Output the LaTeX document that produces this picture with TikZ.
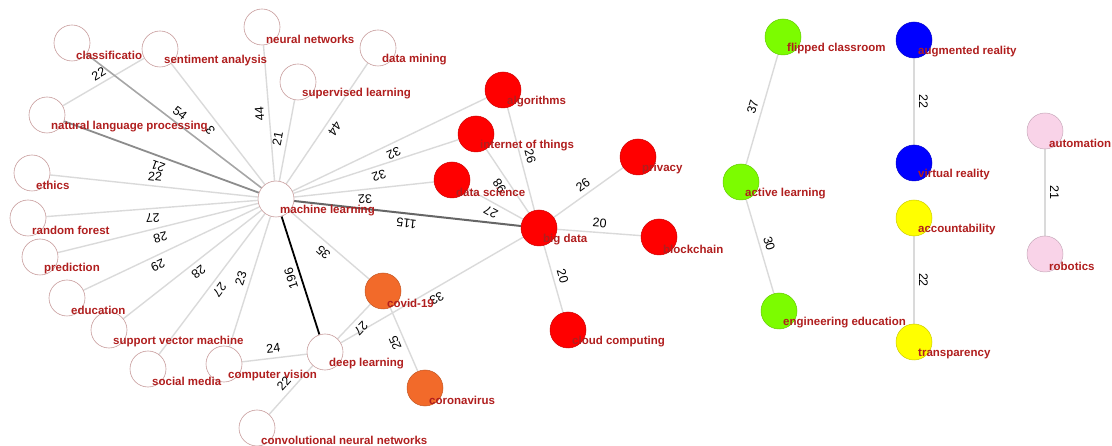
\documentclass[tikz,border=0pt]{standalone}
\usepackage{fontspec}
\setmainfont{Liberation Sans}
\usepackage{xcolor}
\usetikzlibrary{backgrounds}
\definecolor{kwred}{HTML}{B01E1E}
\definecolor{rosy}{HTML}{C89C9C}
\definecolor{linkgray}{HTML}{DADADA}
\definecolor{clusterred}{HTML}{FF0000}
\definecolor{clusterorange}{HTML}{F26A2A}
\definecolor{clustergreen}{HTML}{7CFC00}
\definecolor{clusterblue}{HTML}{0000FF}
\definecolor{clusteryellow}{HTML}{FFFF00}
\definecolor{clusterpink}{HTML}{F9D3E8}

\tikzset{
  wnode/.style={circle, minimum size=36pt, inner sep=0pt, draw=rosy, fill=white, line width=0.6pt},
  cnode/.style={circle, minimum size=36pt, inner sep=0pt, fill=#1, draw=#1!80!black, line width=0.5pt},
  kwlab/.style={anchor=west, inner sep=0pt, text=kwred, font=\bfseries\fontsize{11.5}{12}\selectfont},
  link/.style={draw=linkgray, line width=1.4pt},
  wt/.style={sloped, allow upside down, above=4.5pt, inner sep=0pt, font=\fontsize{12.5}{13}\selectfont}
}

\begin{document}
\begin{tikzpicture}[x=1pt, y=-1pt]
\useasboundingbox (0,0) rectangle (1112,446);

% machine learning cluster
\node[wnode] (ml) at (276,199) {};
\node[wnode] (cls) at (72,43) {};
\node[wnode] (sa) at (160,49) {};
\node[wnode] (nn) at (262,27) {};
\node[wnode] (dm) at (378,48) {};
\node[wnode] (sl) at (298,82) {};
\node[wnode] (nlp) at (47,115) {};
\node[wnode] (eth) at (32,173) {};
\node[wnode] (rf) at (28,218) {};
\node[wnode] (pred) at (40,257) {};
\node[wnode] (edu) at (67,298) {};
\node[wnode] (svm) at (109,330) {};
\node[wnode] (sm) at (148,369) {};
\node[wnode] (cv) at (224,364) {};
\node[wnode] (dl) at (325,352) {};
\node[wnode] (cnn) at (257,428) {};

% covid
\node[cnode=clusterorange] (cov) at (383,291) {};
\node[cnode=clusterorange] (cor) at (425,388) {};

% big data
\node[cnode=clusterred] (bd) at (539,228) {};
\node[cnode=clusterred] (alg) at (503,90) {};
\node[cnode=clusterred] (iot) at (476,134) {};
\node[cnode=clusterred] (ds) at (452,180) {};
\node[cnode=clusterred] (prv) at (638,157) {};
\node[cnode=clusterred] (bc) at (659,237) {};
\node[cnode=clusterred] (cc) at (568,330) {};

% small clusters
\node[cnode=clustergreen] (fc) at (783,37) {};
\node[cnode=clustergreen] (al) at (741,182) {};
\node[cnode=clustergreen] (ee) at (779,311) {};
\node[cnode=clusterblue] (ar) at (914,40) {};
\node[cnode=clusterblue] (vr) at (914,163) {};
\node[cnode=clusteryellow] (acc) at (914,218) {};
\node[cnode=clusteryellow] (tr) at (914,342) {};
\node[cnode=clusterpink] (aut) at (1045,131) {};
\node[cnode=clusterpink] (rob) at (1045,254) {};

\begin{pgfonlayer}{background}
\draw[link] (nlp) -- node[wt]{22} (sa);
\draw[link, draw=black!35, line width=1.6pt] (cls) -- node[wt]{54} (ml);
\draw[link] (ml) -- node[wt]{3} (sa);
\draw[link] (ml) -- node[wt]{44} (nn);
\draw[link] (ml) -- node[wt]{21} (sl);
\draw[link] (dm) -- node[wt]{44} (ml);
\draw[link, draw=black!45, line width=1.8pt] (ml) -- node[wt]{21} (nlp);
\draw[link] (eth) -- node[wt]{22} (ml);
\draw[link] (ml) -- node[wt]{27} (rf);
\draw[link] (ml) -- node[wt]{28} (pred);
\draw[link] (ml) -- node[wt, pos=0.6]{29} (edu);
\draw[link] (ml) -- node[wt]{28} (svm);
\draw[link] (ml) -- node[wt]{27} (sm);
\draw[link] (cv) -- node[wt]{23} (ml);
\draw[line width=1.8pt] (dl) -- node[wt]{196} (ml);
\draw[link] (cov) -- node[wt]{35} (ml);
\draw[link] (alg) -- node[wt]{32} (ml);
\draw[link] (iot) -- node[wt]{32} (ml);
\draw[link] (ds) -- node[wt]{32} (ml);
\draw[link, draw=black!60, line width=2pt] (bd) -- node[wt]{115} (ml);
\draw[link] (bd) -- node[wt]{27} (ds);
\draw[link] (bd) -- node[wt]{98} (iot);
\draw[link] (alg) -- node[wt]{26} (bd);
\draw[link] (bd) -- node[wt]{26} (prv);
\draw[link] (bd) -- node[wt]{20} (bc);
\draw[link] (bd) -- node[wt]{20} (cc);
\draw[link] (bd) -- node[wt]{33} (dl);
\draw[link] (cov) -- node[wt]{27} (dl);
\draw[link] (cor) -- node[wt]{25} (cov);
\draw[link] (cv) -- node[wt]{24} (dl);
\draw[link] (cnn) -- node[wt]{22} (dl);
\draw[link] (al) -- node[wt]{37} (fc);
\draw[link] (al) -- node[wt]{30} (ee);
\draw[link] (ar) -- node[wt]{22} (vr);
\draw[link] (acc) -- node[wt]{22} (tr);
\draw[link] (aut) -- node[wt]{21} (rob);
\end{pgfonlayer}

% keyword labels
\foreach \n/\t in {ml/machine learning, cls/classificatio, sa/sentiment analysis,
    nn/neural networks, dm/data mining, sl/supervised learning,
    nlp/natural language processing, eth/ethics, rf/random forest,
    pred/prediction, edu/education, svm/support vector machine,
    sm/social media, cv/computer vision, dl/deep learning,
    cnn/convolutional neural networks, cov/covid-19, cor/coronavirus,
    bd/big data, alg/algorithms, iot/internet of things, ds/data science,
    prv/privacy, bc/blockchain, cc/cloud computing,
    fc/flipped classroom, al/active learning, ee/engineering education,
    ar/augmented reality, vr/virtual reality, acc/accountability,
    tr/transparency, aut/automation, rob/robotics}
  \node[kwlab] at ([shift={(4,12)}]\n.center) {\t};
\end{tikzpicture}
\end{document}
